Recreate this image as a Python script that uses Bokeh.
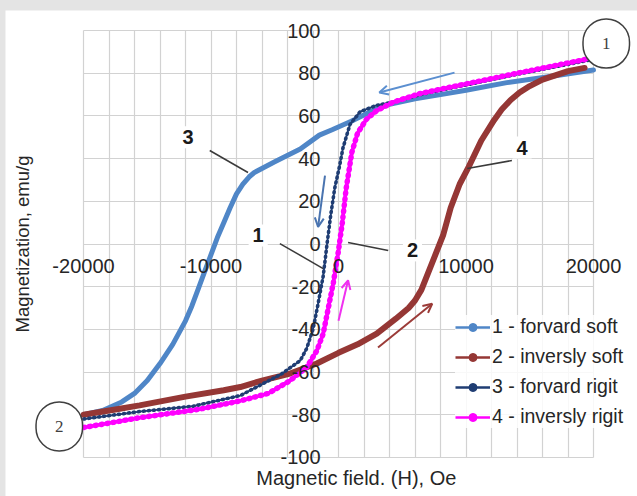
from bokeh.plotting import figure
from bokeh.models import (Range1d, SingleIntervalTicker, FixedTicker, Label, Arrow, OpenHead,
                          Legend, LegendItem, Spacer)
from bokeh.layouts import column, row
from bokeh.embed import file_html
from bokeh.resources import INLINE

# ---------------- data ----------------
x_ticks = [-20000, -10000, 0, 10000, 20000]
y_ticks = [-100, -80, -60, -40, -20, 0, 20, 40, 60, 80, 100]

series_names = ["1 - forvard soft", "2 - inversly soft", "3 - forvard rigit", "4 - inversly rigit"]

# 1 - forvard soft (descending branch)
fs_x = [20000, 17000, 13200, 10000, 8000, 6000, 4000, 2500, 1000, -500, -1500, -3000, -5000, -6600,
        -7000, -7500, -8000, -8500, -9000, -9500, -10000, -10500, -11000, -11500, -12000, -13000,
        -14000, -15000, -16000, -17000, -18500, -20000]
fs_y = [81.5, 78.8, 75.6, 72, 70, 68, 65.5, 62, 57.5, 53.5, 51, 44.5, 38.5, 33.5,
        31.5, 28, 23.5, 17, 10, 3, -5, -13, -21, -29, -36, -47,
        -56, -64, -70, -74, -78, -80]

# 2 - inversly soft (ascending branch)
is_x = [-20000, -17500, -15600, -12000, -9000, -7700, -6000, -3800, -1700, 0, 1500, 3000, 4500, 5500,
        6000, 6500, 7000, 7600, 8200, 8800, 9500, 10200, 11200, 12200, 12800, 13500, 14200, 15000,
        16000, 17000, 18000, 19300]
is_y = [-80, -77.5, -75.6, -71.5, -68.5, -67, -64, -60.7, -56, -51, -47, -42, -35, -30,
        -26.5, -21.5, -14, -5, 4, 17, 28, 36, 48.5, 58, 63, 67.5, 71, 74,
        77, 79, 81, 82.5]

# 3 - forvard rigit (descending branch)
fr_x = [20000, 14000, 8800, 6400, 4300, 3000, 1700, 900, 350, 100, -300, -600, -900, -1200,
        -1600, -2000, -2500, -3000, -4500, -7700, -11400, -15600, -20000]
fr_y = [86.5, 79.5, 73, 70, 66.5, 65, 62, 56, 45, 37, 26, 14, 0, -15,
        -28, -40, -49, -54.6, -61, -71, -76, -78.5, -82]

# 4 - inversly rigit (ascending branch)
ir_x = [-20000, -15600, -11000, -7700, -5500, -3800, -2500, -1700, -1200, -800, -400, 0, 300, 600,
        1050, 1500, 2200, 3000, 4300, 6400, 8800, 14000, 19800]
ir_y = [-86, -81.4, -77.5, -73.5, -70, -64, -57.8, -50, -42, -30, -18, -3, 10, 26,
        43, 52, 58.5, 62.5, 66.5, 70.5, 73.5, 80, 87]

# annotation text labels on curves
tag_text = ["3", "4", "1", "2"]
tag_x = [-11800, 14400, -6300, 5800]
tag_y = [50, 45.2, 4, -3]
lead_x0 = [-10100, 13600, -4600, 750]
lead_y0 = [43.8, 39.1, 0.2, 0.7]
lead_x1 = [-7100, 10100, -1200, 3900]
lead_y1 = [33.5, 35.4, -11.5, -3]

# direction arrows
arr_x0 = [9100, -1060, 0, 3100]
arr_y0 = [80.3, 32, -36, -48.5]
arr_x1 = [3200, -1600, 750, 7350]
arr_y1 = [71, 8, -17, -28]
arr_col = ["#5b8fd0", "#4a74b0", "#f030f0", "#9b3b38"]

# circled state markers
circ_text = ["1", "2"]
circ_x = [21000, -21900]
circ_y = [93.9, -85.5]

colors = ["#4f86c7", "#953735", "#1f3d73", "#ff00ff"]
GRID = "#d2d2d2"
TXT = "#262626"

# visible window (grid occupies -20000..20000, -100..100)
X_VIEW = (-26118, 23451)
Y_VIEW = (-118.3, 109.4)

# ---------------- figure ----------------
p = figure(width=632, height=486, x_range=Range1d(*X_VIEW), y_range=Range1d(*Y_VIEW),
           output_backend="svg", toolbar_location=None,
           min_border_left=0, min_border_right=0, min_border_top=0, min_border_bottom=0,
           background_fill_color="white", border_fill_color="white",
           outline_line_color=None)

p.xaxis.fixed_location = 0
p.yaxis.fixed_location = 0
p.xaxis.ticker = FixedTicker(ticks=x_ticks)
p.yaxis.ticker = FixedTicker(ticks=y_ticks)
p.xaxis.major_label_overrides = {t: str(t) for t in x_ticks}
p.yaxis.major_label_overrides = {t: str(t) for t in y_ticks}
for ax in (p.xaxis, p.yaxis):
    ax.axis_line_color = None
    ax.major_tick_line_color = None
    ax.minor_tick_line_color = None
    ax.major_tick_out = 0
    ax.major_tick_in = 0
    ax.major_label_text_font = "Liberation Sans"
    ax.major_label_text_font_size = "20px"
    ax.major_label_text_color = TXT
p.xaxis.major_label_standoff = 15
p.yaxis.major_label_standoff = 18

p.xgrid.ticker = SingleIntervalTicker(interval=2000)
p.ygrid.ticker = FixedTicker(ticks=y_ticks)
p.xgrid.bounds = (-20000.5, 20000.5)
p.xgrid.cross_bounds = (-100, 100)
p.ygrid.bounds = (-100.01, 100.01)
p.ygrid.cross_bounds = (-20000, 20000)
p.xgrid.grid_line_color = GRID
p.ygrid.grid_line_color = GRID
p.xgrid.grid_line_width = 1.2
p.ygrid.grid_line_width = 1.2

# curves
p.line(fs_x, fs_y, line_color=colors[0], line_width=5, line_join="round", line_cap="round")
p.line(is_x, is_y, line_color=colors[1], line_width=6, line_join="round", line_cap="round")
p.line(fr_x, fr_y, line_color=colors[2], line_width=1.8, line_join="round")
p.line(fr_x, fr_y, line_color=colors[2], line_width=3.6, line_dash="1 4", line_cap="round")
p.line(ir_x, ir_y, line_color=colors[3], line_width=3.6, line_join="round")
p.line(ir_x, ir_y, line_color=colors[3], line_width=5.5, line_dash="1 5", line_cap="round")

# leader lines
p.segment(x0=lead_x0, y0=lead_y0, x1=lead_x1, y1=lead_y1, line_color="#3a3a3a", line_width=1.5)

# arrows
for i in range(4):
    p.add_layout(Arrow(end=OpenHead(size=9, line_color=arr_col[i], line_width=2),
                       x_start=arr_x0[i], y_start=arr_y0[i], x_end=arr_x1[i], y_end=arr_y1[i],
                       line_color=arr_col[i], line_width=2))

# tags
for t, x, y in zip(tag_text, tag_x, tag_y):
    p.add_layout(Label(x=x, y=y, text=t, text_align="center", text_baseline="middle",
                       text_font="Liberation Sans", text_font_style="bold", text_font_size="20px",
                       text_color="#1a1a1a", background_fill_color="white",
                       padding=4))

# circled markers
for t, x, y in zip(circ_text, circ_x, circ_y):
    p.add_layout(Label(x=x, y=y, text=t, text_align="center", text_baseline="middle",
                       text_font="Liberation Serif", text_font_size="17px", text_color="#404040",
                       background_fill_color="white", border_line_color="#404040",
                       border_line_width=1.5,
                       padding=dict(left=19, right=19, top=19, bottom=19), border_radius=23))

# axis titles
p.add_layout(Label(x=-24800, y=0, text="Magnetization, emu/g", angle=90, angle_units="deg",
                   text_align="center", text_baseline="middle", text_font="Liberation Sans",
                   text_font_size="18.5px", text_color=TXT))
p.add_layout(Label(x=1400, y=-109.8, text="Magnetic field. (H), Oe",
                   text_align="center", text_baseline="middle", text_font="Liberation Sans",
                   text_font_size="20px", text_color=TXT))

# legend with thin sample glyphs (renderers hold a single NaN so nothing is drawn in the plot)
nan = float("nan")
items = []
for name, c in zip(series_names, colors):
    lr = p.line([nan], [nan], line_color=c, line_width=2.5)
    sr = p.scatter([nan], [nan], marker="circle", size=5, fill_color=c, line_color=c)
    items.append(LegendItem(label=name, renderers=[lr, sr]))
legend = Legend(items=items, location=(450, 68), orientation="vertical", padding=0, margin=0,
                spacing=7, glyph_width=35, glyph_height=20, label_height=20, label_standoff=2,
                label_text_font="Liberation Sans", label_text_font_size="19.5px",
                label_text_color=TXT, border_line_color=None,
                background_fill_color="white", background_fill_alpha=0.85)
p.add_layout(legend)

layout = column(Spacer(width=637, height=10),
                row(Spacer(width=5, height=486), p),
                styles={"background-color": "#e4e4e4"})

open("out.html", "w").write(file_html(layout, INLINE))
